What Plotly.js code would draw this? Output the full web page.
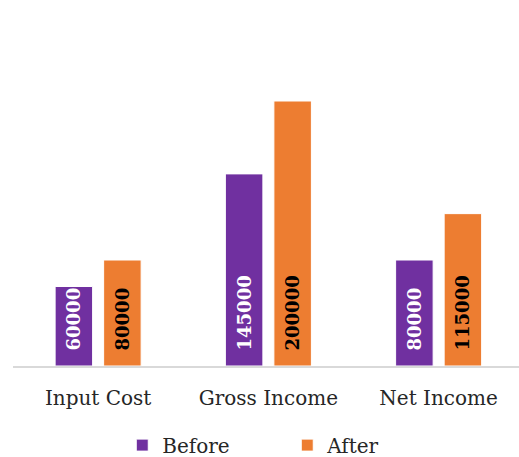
<!DOCTYPE html>
<html>
<head>
<meta charset="utf-8">
<script src="https://cdn.plot.ly/plotly-3.0.1.min.js"></script>
<style>html,body{margin:0;padding:0;background:#fff;}#chart{width:519px;height:457px;}</style>
</head>
<body>
<div id="chart"></div>
<script>
var categories = ["Input Cost", "Gross Income", "Net Income"];
var beforeValues = [60000, 145000, 80000];
var afterValues = [80000, 200000, 115000];
var seriesNames = ["Before", "After"];

var labelFont = "DejaVu Serif, serif";

var traces = [
  {
    type: "bar", name: seriesNames[0], x: categories, y: beforeValues,
    marker: {color: "#7030A0", line: {color: "#ffffff", width: 1}},
    text: beforeValues.map(String),
    texttemplate: "\u00a0\u00a0%{text}",
    textposition: "inside", insidetextanchor: "start", textangle: -90,
    constraintext: "none",
    textfont: {family: labelFont, size: 18, color: "#ffffff", weight: "bold"},
    hoverinfo: "skip"
  },
  {
    type: "bar", name: seriesNames[1], x: categories, y: afterValues,
    marker: {color: "#ED7D31", line: {color: "#ffffff", width: 1}},
    text: afterValues.map(String),
    texttemplate: "\u00a0\u00a0%{text}",
    textposition: "inside", insidetextanchor: "start", textangle: -90,
    constraintext: "none",
    textfont: {family: labelFont, size: 18, color: "#000000", weight: "bold"},
    hoverinfo: "skip"
  }
];

var layout = {
  width: 519, height: 457,
  margin: {l: 13, r: 0, t: 48, b: 91, autoexpand: false},
  paper_bgcolor: "#ffffff", plot_bgcolor: "#ffffff",
  barmode: "group", bargap: 0.43, bargroupgap: 0.227,
  font: {family: labelFont, size: 20, color: "#262626"},
  xaxis: {
    type: "category", range: [-0.5, 2.472],
    showline: true, linecolor: "#d9d9d9", linewidth: 2,
    ticks: "", showgrid: false, zeroline: false, automargin: false,
    ticklabelstandoff: 13,
    tickfont: {family: labelFont, size: 20, color: "#262626"}
  },
  yaxis: {
    range: [0, 240000], showticklabels: false, showgrid: false,
    zeroline: false, showline: false, ticks: "", automargin: false
  },
  showlegend: true,
  legend: {
    orientation: "h", x: 0.542, xanchor: "center",
    yref: "container", y: 0.026, yanchor: "middle",
    font: {family: labelFont, size: 20, color: "#262626"},
    entrywidth: 120, traceorder: "normal"
  }
};

Plotly.newPlot("chart", traces, layout, {displayModeBar: false, staticPlot: true});
</script>
</body>
</html>
